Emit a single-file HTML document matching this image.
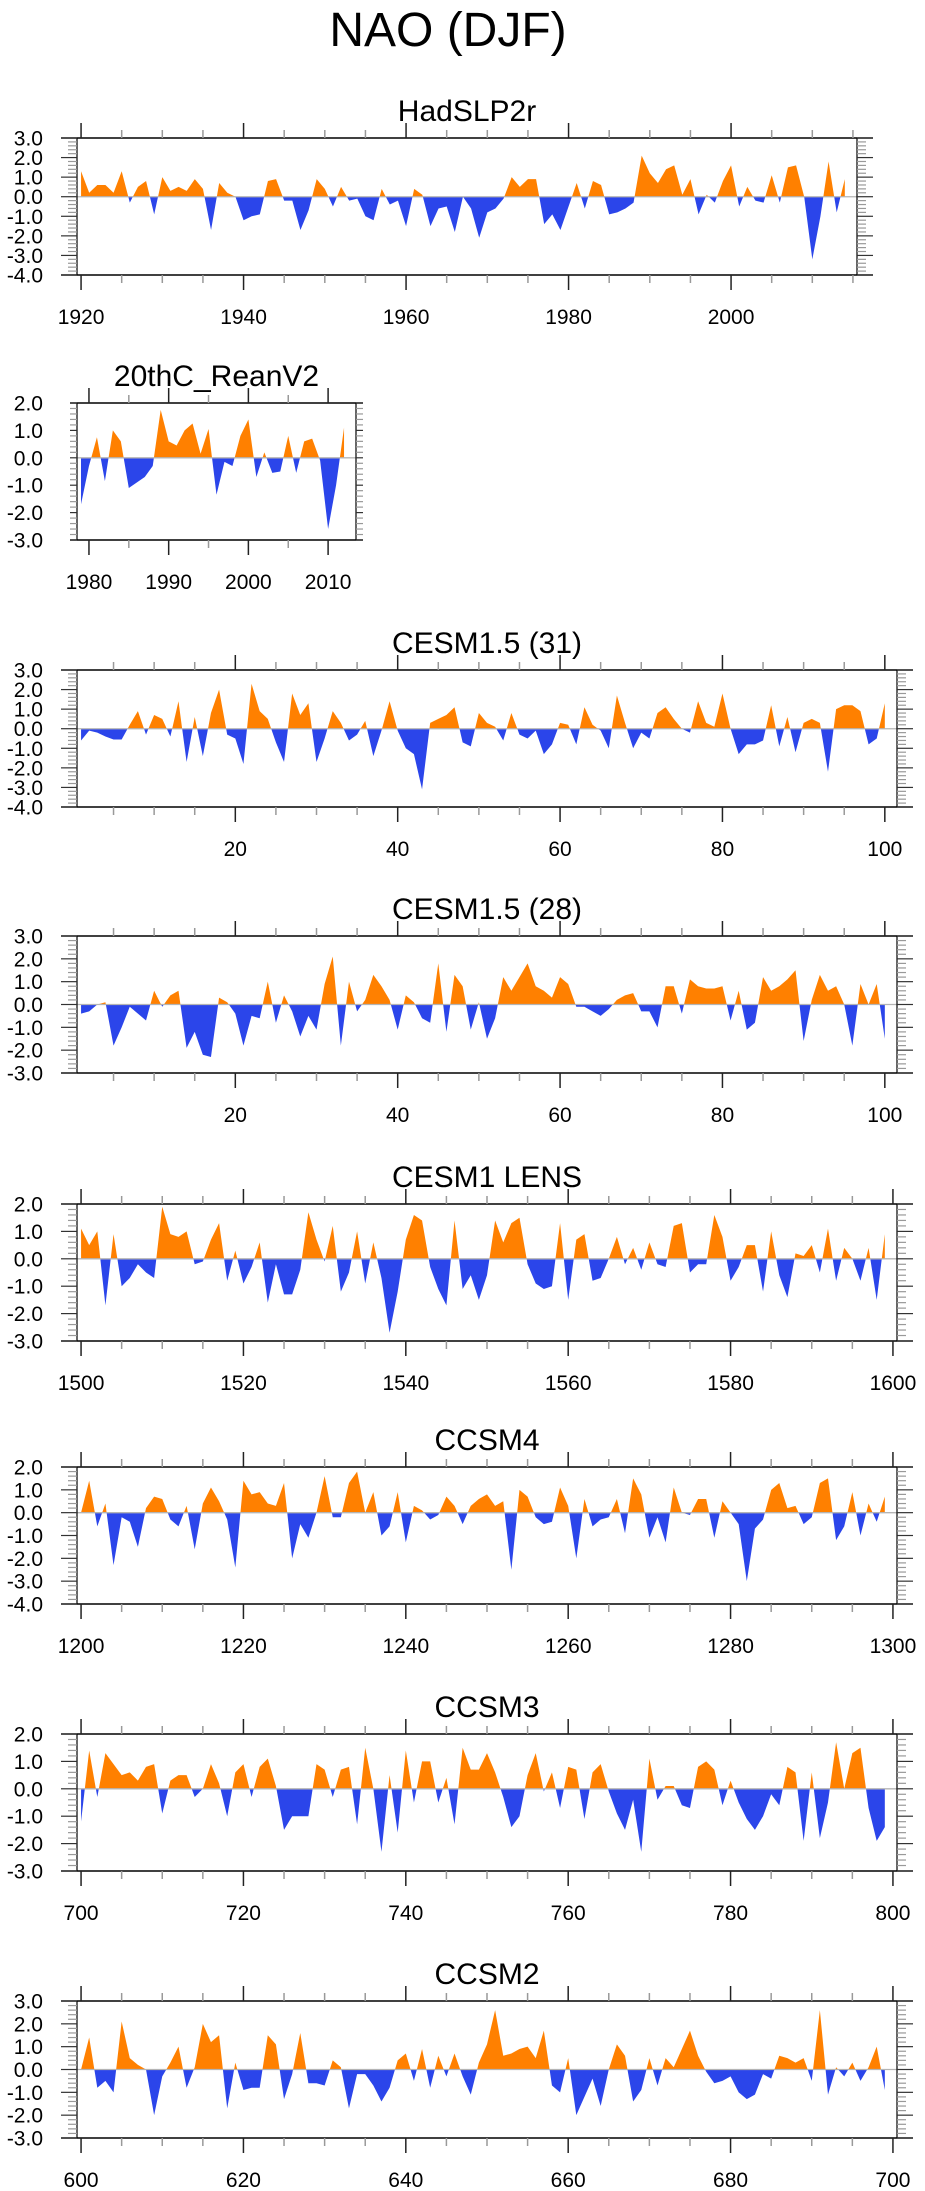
<!DOCTYPE html>
<html><head><meta charset="utf-8"><title>NAO (DJF)</title>
<style>
html,body{margin:0;padding:0;background:#fff;}
svg{display:block;}
text{font-family:"Liberation Sans",Arial,sans-serif;fill:#000;}
</style></head>
<body>
<svg id="fig" width="925" height="2191" viewBox="0 0 925 2191" xmlns="http://www.w3.org/2000/svg">
<text x="448" y="46" font-size="48" text-anchor="middle">NAO (DJF)</text>
</svg>
<script>
// ---- data ----
const hadStart = 1920;
const hadValues = [1.3,0.2,0.6,0.6,0.2,1.3,-0.3,0.5,0.8,-0.9,1.0,0.3,0.5,0.3,0.9,0.4,-1.7,0.7,0.2,0.0,
-1.2,-1.0,-0.9,0.8,0.9,-0.2,-0.2,-1.7,-0.7,0.9,0.4,-0.5,0.5,-0.2,-0.1,-1.0,-1.2,0.4,-0.4,-0.2,
-1.5,0.4,0.1,-1.5,-0.6,-0.5,-1.8,0.0,-0.6,-2.1,-0.8,-0.6,-0.1,1.0,0.5,0.9,0.9,-1.4,-0.9,-1.7,
-0.5,0.7,-0.6,0.8,0.6,-0.9,-0.8,-0.6,-0.3,2.1,1.2,0.7,1.4,1.6,0.1,0.9,-0.9,0.1,-0.3,0.8,
1.6,-0.5,0.5,-0.2,-0.3,1.1,-0.3,1.5,1.6,0.0,-3.2,-1.0,1.8,-0.8,0.9];
const reanStart = 1979;
const reanValues = [-1.7,-0.3,0.75,-0.85,1.0,0.6,-1.1,-0.9,-0.7,-0.3,1.75,0.6,0.45,1.0,1.25,0.15,1.05,-1.35,-0.15,-0.3,
0.8,1.4,-0.7,0.2,-0.55,-0.5,0.8,-0.55,0.6,0.7,-0.1,-2.6,-1.0,1.1];
const cesm31Start = 1;
const cesm31Values = [-0.6,-0.1,-0.2,-0.4,-0.55,-0.55,0.2,0.9,-0.3,0.7,0.5,-0.4,1.4,-1.7,0.6,-1.4,0.8,2.0,-0.3,-0.5,
-1.8,2.3,0.9,0.5,-0.7,-1.7,1.8,0.7,1.3,-1.7,-0.5,0.9,0.3,-0.6,-0.3,0.4,-1.4,-0.1,1.4,-0.1,
-1.0,-1.3,-3.1,0.3,0.5,0.7,1.1,-0.7,-0.9,0.8,0.3,0.1,-0.6,0.8,-0.3,-0.5,-0.1,-1.3,-0.8,0.3,
0.2,-0.8,1.1,0.2,-0.1,-1.0,1.7,0.3,-1.0,-0.2,-0.5,0.8,1.1,0.5,0.0,-0.2,1.4,0.3,0.1,1.8,
0.0,-1.3,-0.8,-0.8,-0.6,1.2,-0.9,0.6,-1.2,0.3,0.5,0.3,-2.2,1.0,1.2,1.2,0.9,-0.8,-0.5,1.3];
const cesm28Start = 1;
const cesm28Values = [-0.4,-0.3,0.0,0.1,-1.8,-1.0,-0.1,-0.4,-0.7,0.6,-0.1,0.4,0.6,-1.9,-1.2,-2.2,-2.3,0.3,0.1,-0.4,
-1.8,-0.5,-0.6,1.0,-0.8,0.4,-0.3,-1.4,-0.5,-1.1,0.9,2.1,-1.8,1.0,-0.3,0.2,1.3,0.8,0.2,-1.1,
0.4,0.1,-0.6,-0.8,1.8,-1.2,1.3,0.8,-1.1,0.1,-1.5,-0.6,1.2,0.6,1.2,1.8,0.8,0.6,0.3,1.2,
0.9,-0.1,-0.1,-0.3,-0.5,-0.2,0.2,0.4,0.5,-0.3,-0.3,-1.0,0.8,0.8,-0.4,1.1,0.8,0.7,0.7,0.8,
-0.7,0.6,-1.1,-0.8,1.2,0.6,0.8,1.1,1.5,-1.6,0.2,1.3,0.6,0.8,0.0,-1.8,0.9,0.0,0.9,-1.5];
const lensStart = 1500;
const lensValues = [1.1,0.5,1.0,-1.7,0.9,-1.0,-0.7,-0.2,-0.5,-0.7,1.9,0.9,0.8,1.0,-0.2,-0.1,0.7,1.3,-0.8,0.3,
-0.9,-0.3,0.6,-1.6,-0.2,-1.3,-1.3,-0.4,1.7,0.7,-0.1,1.2,-1.2,-0.5,1.0,-0.9,0.6,-0.7,-2.7,-1.2,
0.7,1.6,1.4,-0.3,-1.1,-1.7,1.4,-1.1,-0.6,-1.5,-0.6,1.4,0.6,1.3,1.5,-0.2,-0.9,-1.1,-1.0,1.3,
-1.5,0.7,0.9,-0.8,-0.7,0.0,0.8,-0.2,0.4,-0.4,0.6,-0.2,-0.3,1.2,1.3,-0.5,-0.2,-0.2,1.6,0.8,
-0.8,-0.3,0.5,0.5,-1.2,1.0,-0.6,-1.4,0.2,0.1,0.5,-0.5,1.1,-0.8,0.4,0.0,-0.8,0.4,-1.5,0.9];
const ccsm4Start = 1200;
const ccsm4Values = [0.0,1.4,-0.6,0.4,-2.3,-0.2,-0.4,-1.5,0.2,0.7,0.6,-0.3,-0.6,0.3,-1.6,0.4,1.1,0.5,-0.3,-2.4,
1.4,0.8,0.9,0.4,0.3,1.3,-2.0,-0.5,-1.1,0.0,1.6,-0.2,-0.2,1.3,1.8,0.0,0.9,-1.0,-0.6,0.9,
-1.3,0.3,0.1,-0.3,-0.1,0.7,0.3,-0.5,0.3,0.6,0.8,0.3,0.5,-2.5,1.0,0.7,-0.2,-0.5,-0.4,1.1,
0.3,-2.0,0.6,-0.6,-0.3,-0.2,0.6,-0.9,1.5,0.8,-1.1,-0.2,-1.3,1.1,0.0,-0.1,0.6,0.6,-1.1,0.5,
0.0,-0.5,-3.0,-0.7,-0.3,1.0,1.3,0.2,0.3,-0.5,-0.2,1.3,1.5,-1.2,-0.6,0.9,-1.0,0.4,-0.4,0.7];
const ccsm3Start = 700;
const ccsm3Values = [-1.2,1.4,-0.3,1.3,0.9,0.5,0.6,0.3,0.8,0.9,-0.9,0.3,0.5,0.5,-0.3,0.0,0.9,0.2,-1.0,0.6,
0.9,-0.3,0.8,1.1,0.1,-1.5,-1.0,-1.0,-1.0,0.9,0.7,-0.3,0.7,0.8,-1.3,1.5,0.0,-2.3,0.5,-1.6,
1.4,-0.5,1.0,1.0,-0.5,0.4,-1.3,1.5,0.7,0.7,1.3,0.6,-0.3,-1.4,-1.0,0.5,1.3,-0.1,0.6,-0.7,
0.8,0.7,-1.1,0.6,0.9,-0.1,-0.9,-1.5,-0.4,-2.3,1.1,-0.4,0.1,0.1,-0.6,-0.7,0.8,1.0,0.7,-0.6,
0.3,-0.5,-1.1,-1.5,-1.0,-0.2,-0.6,0.8,0.6,-1.9,0.6,-1.8,-0.5,1.7,0.0,1.3,1.5,-0.7,-1.9,-1.4];
const ccsm2Start = 600;
const ccsm2Values = [0.0,1.4,-0.8,-0.5,-1.0,2.1,0.5,0.2,0.0,-2.0,-0.3,0.3,1.0,-0.8,0.1,2.0,1.2,1.5,-1.7,0.3,
-0.9,-0.8,-0.8,1.5,1.1,-1.3,-0.2,1.6,-0.6,-0.6,-0.7,0.4,0.1,-1.7,-0.2,-0.2,-0.7,-1.4,-0.8,0.4,
0.7,-0.5,0.9,-0.8,0.6,-0.3,0.7,-0.3,-1.1,0.3,1.1,2.6,0.6,0.7,0.9,1.0,0.5,1.7,-0.7,-1.0,
0.5,-2.0,-1.2,-0.4,-1.6,0.0,1.1,0.6,-1.4,-0.9,0.5,-0.7,0.5,0.1,0.9,1.7,0.6,-0.1,-0.6,-0.5,
-0.3,-1.0,-1.3,-1.1,-0.2,-0.4,0.6,0.5,0.3,0.5,-0.5,2.6,-1.1,0.1,-0.3,0.3,-0.5,0.1,1.0,-0.9];
const panelTitles = ["HadSLP2r","20thC_ReanV2","CESM1.5 (31)","CESM1.5 (28)","CESM1 LENS","CCSM4","CCSM3","CCSM2"];
const yMaxes = [3,2,3,3,2,2,2,3];
const yMins = [-4,-3,-4,-3,-3,-4,-3,-3];

// ---- layout ----
const panels = [
 {name:"hadslp2r", start:hadStart, vals:hadValues, x0:1919.5, x1:2015.5, major:20, left:77, right:857, top:138, ext:16},
 {name:"20thc-reanv2", start:reanStart, vals:reanValues, x0:1978.5, x1:2013.5, major:10, left:77, right:356, top:403, ext:7},
 {name:"cesm15-31", start:cesm31Start, vals:cesm31Values, x0:0.5, x1:101.5, major:20, left:77, right:897, top:670, ext:16, skipFirstLabel:true},
 {name:"cesm15-28", start:cesm28Start, vals:cesm28Values, x0:0.5, x1:101.5, major:20, left:77, right:897, top:936, ext:16, skipFirstLabel:true},
 {name:"cesm1-lens", start:lensStart, vals:lensValues, x0:1499.5, x1:1600.5, major:20, left:77, right:897, top:1204, ext:16},
 {name:"ccsm4", start:ccsm4Start, vals:ccsm4Values, x0:1199.5, x1:1300.5, major:20, left:77, right:897, top:1467, ext:16},
 {name:"ccsm3", start:ccsm3Start, vals:ccsm3Values, x0:699.5, x1:800.5, major:20, left:77, right:897, top:1734, ext:16},
 {name:"ccsm2", start:ccsm2Start, vals:ccsm2Values, x0:599.5, x1:700.5, major:20, left:77, right:897, top:2001, ext:16}
];
const H = 137;
const NS = "http://www.w3.org/2000/svg";
const svg = document.getElementById('fig');
function mk(tag, attrs, parent){
  const e = document.createElementNS(NS, tag);
  for (const k in attrs) e.setAttribute(k, attrs[k]);
  (parent||svg).appendChild(e);
  return e;
}
panels.forEach((p, pi) => {
  const ymax = yMaxes[pi], ymin = yMins[pi];
  const g = mk('g', {});
  
  
  const L = p.left, R = p.right, T = p.top, B = p.top + H;
  const sx = v => L + (v - p.x0) / (p.x1 - p.x0) * (R - L);
  const sy = v => T + (ymax - v) / (ymax - ymin) * H;
  const y0 = sy(0);
  // title
  const t = mk('text', {x:(L+R)/2, y:T-17, 'font-size':30, 'text-anchor':'middle'}, g);
  t.textContent = panelTitles[pi];
  
  
  // fill areas
  const cid = 'clip' + pi;
  const defs = mk('defs', {}, g);
  const cpA = mk('clipPath', {id: cid + 'a'}, defs);
  mk('rect', {x:L, y:T, width:R-L, height:y0-T}, cpA);
  const cpB = mk('clipPath', {id: cid + 'b'}, defs);
  mk('rect', {x:L, y:y0, width:R-L, height:B-y0}, cpB);
  let pts = [];
  p.vals.forEach((v, i) => pts.push(sx(p.start + i).toFixed(2) + ',' + sy(v).toFixed(2)));
  const xa = sx(p.start), xb = sx(p.start + p.vals.length - 1);
  const poly = xa.toFixed(2) + ',' + y0 + ' ' + pts.join(' ') + ' ' + xb.toFixed(2) + ',' + y0;
  const up = mk('polygon', {points:poly, fill:'#ff8000', 'clip-path':'url(#' + cid + 'a)'}, g);
  
  
  const dn = mk('polygon', {points:poly, fill:'#2b45ea', 'clip-path':'url(#' + cid + 'b)'}, g);
  
  
  const zl = mk('line', {x1:L, x2:R, y1:y0, y2:y0, stroke:'#b4b4b4', 'stroke-width':1.3}, g);
  
  
  // frame
  const e = p.ext;
  mk('line', {x1:L-e, x2:R+e, y1:T, y2:T, stroke:'#000', 'stroke-width':1.5}, g);
  mk('line', {x1:L-e, x2:R+e, y1:B, y2:B, stroke:'#000', 'stroke-width':1.5}, g);
  mk('line', {x1:L, x2:L, y1:T, y2:B, stroke:'#000', 'stroke-width':1.2}, g);
  mk('line', {x1:R, x2:R, y1:T, y2:B, stroke:'#000', 'stroke-width':1.2}, g);
  // y ticks
  for (let k = Math.round(ymin*5); k <= Math.round(ymax*5); k++) {
    const v = k/5, y = sy(v), major = (k % 5 === 0);
    const len = major ? e : Math.min(9, e);
    const col = major ? '#333' : '#999';
    mk('line', {x1:L-len, x2:L, y1:y, y2:y, stroke:col, 'stroke-width':1.2}, g);
    mk('line', {x1:R, x2:R+len, y1:y, y2:y, stroke:col, 'stroke-width':1.2}, g);
    if (major) {
      const lt = mk('text', {x:L-34, y:y+7.5, 'font-size':21, 'text-anchor':'end'}, g);
      lt.textContent = v.toFixed(1);
      
      
    }
  }
  // x ticks
  const minor = p.major / (p.major === 10 ? 2 : 4);
  const first = Math.ceil(p.x0 / minor) * minor;
  for (let v = first; v <= p.x1; v += minor) {
    const x = sx(v), major = (Math.abs(v % p.major) < 1e-6);
    const len = major ? 15 : 8;
    const col = major ? '#222' : '#999';
    mk('line', {x1:x, x2:x, y1:T-len, y2:T, stroke:col, 'stroke-width':1.5}, g);
    mk('line', {x1:x, x2:x, y1:B, y2:B+len, stroke:col, 'stroke-width':1.5}, g);
    if (major && !(p.skipFirstLabel && v === 0)) {
      const xt = mk('text', {x:x, y:B+49, 'font-size':21, 'text-anchor':'middle'}, g);
      xt.textContent = String(v);
      
      
    }
  }
});
</script>
</body></html>
